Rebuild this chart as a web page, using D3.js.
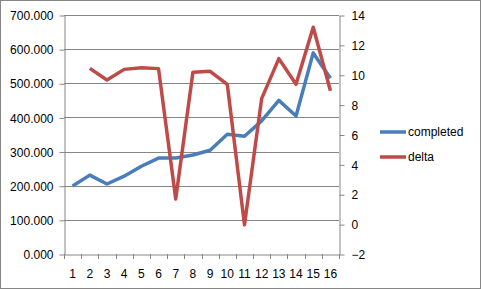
<!DOCTYPE html>
<html>
<head>
<meta charset="utf-8">
<script src="https://cdn.jsdelivr.net/npm/d3@7"></script>
<style>
body { margin: 0; background: #fff; }
text { font-family: "Liberation Sans", Arial, sans-serif; font-size: 12px; fill: #000; }
</style>
</head>
<body>
<svg id="chart" width="481" height="289"></svg>
<script>
// chart data
const categories = ["1","2","3","4","5","6","7","8","9","10","11","12","13","14","15","16"];
const completed = [199, 231, 205, 228, 257, 281, 281, 290, 304, 351, 345, 390, 450, 404, 589, 515];
const delta = [null, 10.43, 9.65, 10.36, 10.47, 10.41, 1.68, 10.16, 10.23, 9.36, -0.05, 8.4, 11.08, 9.36, 13.18, 8.93];
const leftTicks = [0, 100, 200, 300, 400, 500, 600, 700];
const rightTicks = [-2, 0, 2, 4, 6, 8, 10, 12, 14];
const seriesNames = ["completed", "delta"];

const svg = d3.select('#chart');
const plotLeft = 64, plotRight = 339, plotTop = 15, plotBottom = 254;
const gray = '#868686';

// outer frame
svg.append('rect')
    .attr('x', 0.5).attr('y', 0.5)
    .attr('width', 480).attr('height', 288)
    .attr('fill', '#fff')
    .attr('stroke', gray);

const x = d3.scaleBand().domain(categories).range([plotLeft, plotRight]);
const yL = d3.scaleLinear().domain([0, 700]).range([plotBottom, plotTop]);
const yR = d3.scaleLinear().domain([-2, 14]).range([plotBottom, plotTop]);

// gridlines
svg.append('g')
    .selectAll('line')
    .data(leftTicks.slice(1))
    .join('line')
        .attr('x1', plotLeft).attr('x2', plotRight)
        .attr('y1', d => Math.round(yL(d)) + 0.5)
        .attr('y2', d => Math.round(yL(d)) + 0.5)
        .attr('stroke', gray);

// left axis
const axL = svg.append('g')
    .attr('transform', 'translate(' + (plotLeft + 0.5) + ',0.5)')
    .call(d3.axisLeft(yL).tickValues(leftTicks).tickSize(5).tickSizeOuter(0)
        .tickFormat(d => d3.format('.3f')(d)));
axL.selectAll('line, path').attr('stroke', gray);
axL.selectAll('text').attr('x', -11).attr('dy', '0.35em');

// right axis
const axR = svg.append('g')
    .attr('transform', 'translate(' + (plotRight + 0.5) + ',0.5)')
    .call(d3.axisRight(yR).tickValues(rightTicks).tickSize(5).tickSizeOuter(0));
axR.selectAll('line, path').attr('stroke', gray);
axR.selectAll('text').attr('x', 12).attr('dy', '0.35em');

// bottom axis
const axB = svg.append('g')
    .attr('transform', 'translate(0,' + (plotBottom + 0.5) + ')')
    .call(d3.axisBottom(x).tickSize(0).tickSizeOuter(0));
axB.selectAll('path').attr('stroke', gray);
axB.selectAll('text').attr('y', 19).attr('dy', '0.35em');
svg.append('g')
    .selectAll('line')
    .data(categories.concat(['end']))
    .join('line')
        .attr('x1', (d, i) => Math.round(plotLeft + i * x.step()) + 0.5)
        .attr('x2', (d, i) => Math.round(plotLeft + i * x.step()) + 0.5)
        .attr('y1', plotBottom).attr('y2', plotBottom + 5)
        .attr('stroke', gray);

// lines
const lineL = d3.line()
    .x((d, i) => x(categories[i]) + x.bandwidth() / 2)
    .y(d => yL(d));
const lineR = d3.line()
    .defined(d => d != null)
    .x((d, i) => x(categories[i]) + x.bandwidth() / 2)
    .y(d => yR(d));

svg.append('path')
    .datum(completed)
    .attr('d', lineL)
    .attr('fill', 'none')
    .attr('stroke', '#4a7ebb')
    .attr('stroke-width', 3.5)
    .attr('stroke-linejoin', 'round');

svg.append('path')
    .datum(delta)
    .attr('d', lineR)
    .attr('fill', 'none')
    .attr('stroke', '#be4b48')
    .attr('stroke-width', 3.5)
    .attr('stroke-linejoin', 'round');

// legend
const colors = ['#4a7ebb', '#be4b48'];
const leg = svg.append('g');
seriesNames.forEach((name, i) => {
    const ly = 132 + i * 25;
    leg.append('line')
        .attr('x1', 380).attr('x2', 406)
        .attr('y1', ly).attr('y2', ly)
        .attr('stroke', colors[i])
        .attr('stroke-width', 3.5);
    leg.append('text')
        .attr('x', 408).attr('y', ly)
        .attr('dy', '0.35em')
        .text(name);
});
</script>
</body>
</html>
